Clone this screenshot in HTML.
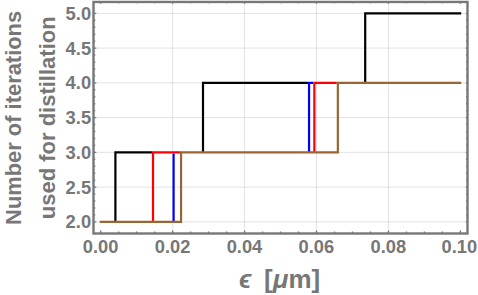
<!DOCTYPE html>
<html><head><meta charset="utf-8">
<style>
html,body{margin:0;padding:0;background:#fff;}
body{width:478px;height:295px;overflow:hidden;}
svg{display:block;}
</style></head><body>
<svg width="478" height="295" viewBox="0 0 478 295">
<rect width="478" height="295" fill="#fff"/>
<path d="M172.64 1.95V233.50M244.58 1.95V233.50M316.52 1.95V233.50M388.46 1.95V233.50" stroke="#000" stroke-opacity="0.13" stroke-width="0.9" fill="none"/>
<path d="M93.50 221.85H467.50M93.50 187.10H467.50M93.50 152.35H467.50M93.50 117.60H467.50M93.50 82.85H467.50M93.50 48.10H467.50M93.50 13.35H467.50" stroke="#000" stroke-opacity="0.13" stroke-width="0.9" fill="none"/>
<g fill="none" stroke-width="2.2" stroke-linejoin="miter" stroke-linecap="butt">
<path stroke="#000000" d="M115.40 221.85V152.35H151.90M203.00 152.35V82.85H307.95M365.20 82.85V13.35H461.20"/>
<path stroke="#0000ff" d="M173.60 221.85V153.45M309.05 152.35V82.85H313.25"/>
<path stroke="#ff0000" d="M153.00 221.85V152.35H179.95M314.35 152.35V82.85H336.75"/>
<path stroke="#996633" d="M99.70 221.85H181.05V152.35H337.85V82.85H461.20"/>
</g>
<path d="M100.70 233.50v-2.90M100.70 1.95v1.70M118.69 233.50v-2.00M118.69 1.95v1.40M136.67 233.50v-2.00M136.67 1.95v1.40M154.66 233.50v-2.00M154.66 1.95v1.40M172.64 233.50v-2.90M172.64 1.95v1.70M190.62 233.50v-2.00M190.62 1.95v1.40M208.61 233.50v-2.00M208.61 1.95v1.40M226.60 233.50v-2.00M226.60 1.95v1.40M244.58 233.50v-2.90M244.58 1.95v1.70M262.56 233.50v-2.00M262.56 1.95v1.40M280.55 233.50v-2.00M280.55 1.95v1.40M298.54 233.50v-2.00M298.54 1.95v1.40M316.52 233.50v-2.90M316.52 1.95v1.70M334.50 233.50v-2.00M334.50 1.95v1.40M352.49 233.50v-2.00M352.49 1.95v1.40M370.47 233.50v-2.00M370.47 1.95v1.40M388.46 233.50v-2.90M388.46 1.95v1.70M406.44 233.50v-2.00M406.44 1.95v1.40M424.43 233.50v-2.00M424.43 1.95v1.40M442.42 233.50v-2.00M442.42 1.95v1.40M460.40 233.50v-2.90M460.40 1.95v1.70M93.50 221.85h2.80M467.50 221.85h-1.70M93.50 214.90h1.80M467.50 214.90h-1.40M93.50 207.95h1.80M467.50 207.95h-1.40M93.50 201.00h1.80M467.50 201.00h-1.40M93.50 194.05h1.80M467.50 194.05h-1.40M93.50 187.10h2.80M467.50 187.10h-1.70M93.50 180.15h1.80M467.50 180.15h-1.40M93.50 173.20h1.80M467.50 173.20h-1.40M93.50 166.25h1.80M467.50 166.25h-1.40M93.50 159.30h1.80M467.50 159.30h-1.40M93.50 152.35h2.80M467.50 152.35h-1.70M93.50 145.40h1.80M467.50 145.40h-1.40M93.50 138.45h1.80M467.50 138.45h-1.40M93.50 131.50h1.80M467.50 131.50h-1.40M93.50 124.55h1.80M467.50 124.55h-1.40M93.50 117.60h2.80M467.50 117.60h-1.70M93.50 110.65h1.80M467.50 110.65h-1.40M93.50 103.70h1.80M467.50 103.70h-1.40M93.50 96.75h1.80M467.50 96.75h-1.40M93.50 89.80h1.80M467.50 89.80h-1.40M93.50 82.85h2.80M467.50 82.85h-1.70M93.50 75.90h1.80M467.50 75.90h-1.40M93.50 68.95h1.80M467.50 68.95h-1.40M93.50 62.00h1.80M467.50 62.00h-1.40M93.50 55.05h1.80M467.50 55.05h-1.40M93.50 48.10h2.80M467.50 48.10h-1.70M93.50 41.15h1.80M467.50 41.15h-1.40M93.50 34.20h1.80M467.50 34.20h-1.40M93.50 27.25h1.80M467.50 27.25h-1.40M93.50 20.30h1.80M467.50 20.30h-1.40M93.50 13.35h2.80M467.50 13.35h-1.70" stroke="#777777" stroke-width="1.4" fill="none"/>
<rect x="93.50" y="1.95" width="374.00" height="231.55" fill="none" stroke="#777777" stroke-width="2.4"/>
<g fill="#777777" stroke="none" font-family="'Liberation Sans', 'DejaVu Sans', sans-serif" font-weight="bold">
<g font-size="18.4" text-anchor="end">
<text x="91.2" y="228.35">2.0</text>
<text x="91.2" y="193.60">2.5</text>
<text x="91.2" y="158.85">3.0</text>
<text x="91.2" y="124.10">3.5</text>
<text x="91.2" y="89.35">4.0</text>
<text x="91.2" y="54.60">4.5</text>
<text x="91.2" y="19.85">5.0</text>
</g>
<g font-size="18.3" text-anchor="middle">
<text x="100.60" y="253.0">0.00</text>
<text x="172.54" y="253.0">0.02</text>
<text x="244.48" y="253.0">0.04</text>
<text x="316.42" y="253.0">0.06</text>
<text x="388.36" y="253.0">0.08</text>
<text x="459.30" y="253.0">0.10</text>
</g>
<text transform="translate(21.4,117.9) rotate(-90)" x="0" y="0" font-size="21.9" text-anchor="middle">Number of iterations</text>
<text transform="translate(55.1,117.8) rotate(-90)" x="0" y="0" font-size="22" text-anchor="middle">used for distillation</text>
<text x="239" y="288.4" font-size="26" font-style="italic">ϵ</text>
<text x="292.1" y="288.2" font-size="26" text-anchor="middle">[<tspan font-style="italic">μ</tspan>m]</text>
</g>
</svg>
</body></html>
